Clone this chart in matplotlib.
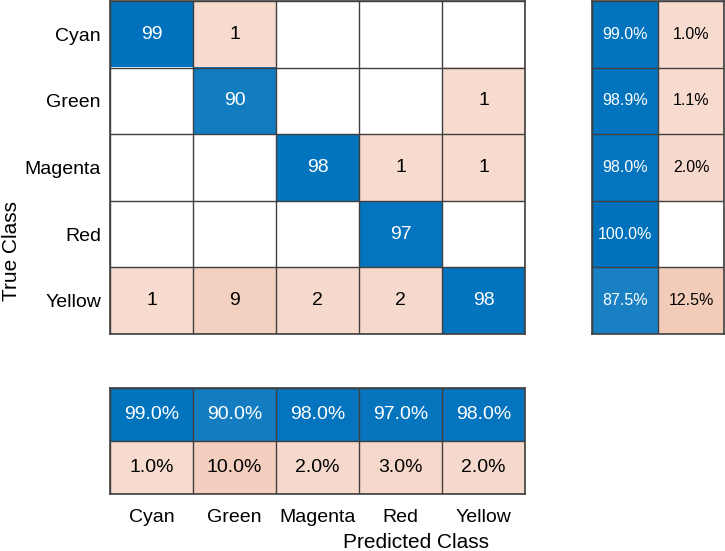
import matplotlib
matplotlib.use('Agg')
import matplotlib.pyplot as plt
import numpy as np

plt.rcParams['font.family'] = ['Liberation Sans', 'DejaVu Sans']

classes = ['Cyan', 'Green', 'Magenta', 'Red', 'Yellow']
# rows = true class, cols = predicted class
counts = np.array([
    [99, 1, 0, 0, 0],
    [0, 90, 0, 0, 1],
    [0, 0, 98, 1, 1],
    [0, 0, 0, 97, 0],
    [1, 9, 2, 2, 98],
])

BLUE = (0.0, 0.447, 0.741)
ORANGE = (0.85, 0.325, 0.098)
EDGE = '#3f3f3f'
W, H = 725, 551


def shade(base, a):
    return 1 - a * (1 - np.array(base))


def fig_rect(l, t, r, b):
    return [l / W, 1 - b / H, (r - l) / W, (b - t) / H]


def draw_grid(ax, nr, nc):
    for i in range(nr + 1):
        ax.axhline(i - 0.5, color=EDGE, lw=1.0)
    for j in range(nc + 1):
        ax.axvline(j - 0.5, color=EDGE, lw=1.0)
    for s in ax.spines.values():
        s.set_color(EDGE)
        s.set_linewidth(1.2)


n = len(classes)
vmax = counts.max()
rgb = np.ones((n, n, 3))
for i in range(n):
    for j in range(n):
        v = counts[i, j]
        if v > 0:
            rgb[i, j] = shade(BLUE if i == j else ORANGE, 0.2 + 0.8 * v / vmax)

row_tot = counts.sum(axis=1)
col_tot = counts.sum(axis=0)
row_ok = np.diag(counts) / row_tot * 100
col_ok = np.diag(counts) / col_tot * 100
row_pct = np.column_stack([row_ok, 100 - row_ok])
col_pct = np.vstack([col_ok, 100 - col_ok])


def pct_rgb(p, blue_first_axis):
    out = np.ones(p.shape + (3,))
    for idx, v in np.ndenumerate(p):
        good = idx[blue_first_axis] == 0
        if v > 0:
            out[idx] = shade(BLUE if good else ORANGE, 0.2 + 0.8 * v / 100)
    return out


fig = plt.figure(figsize=(7.25, 5.51), dpi=100)

# main matrix
ax = fig.add_axes(fig_rect(110, 1, 525, 334))
ax.imshow(rgb, aspect='auto', interpolation='nearest')
draw_grid(ax, n, n)
for i in range(n):
    for j in range(n):
        v = counts[i, j]
        if v > 0:
            ax.text(j, i, str(v), ha='center', va='center', fontsize=14,
                    color='white' if i == j else 'black')
ax.set_yticks(range(n))
ax.set_yticklabels(classes, fontsize=14)
ax.set_xticks([])
ax.tick_params(axis='y', length=0, pad=6.5)

# row summary
axr = fig.add_axes(fig_rect(592, 1, 724, 334))
axr.imshow(pct_rgb(row_pct, 1), aspect='auto', interpolation='nearest')
draw_grid(axr, n, 2)
for i in range(n):
    for j in range(2):
        v = row_pct[i, j]
        if v > 0:
            axr.text(j, i, f'{v:.1f}%', ha='center', va='center', fontsize=11.5,
                     color='white' if j == 0 else 'black')
axr.set_xticks([])
axr.set_yticks([])

# column summary
axb = fig.add_axes(fig_rect(110, 388, 525, 494))
axb.imshow(pct_rgb(col_pct, 0), aspect='auto', interpolation='nearest')
draw_grid(axb, 2, n)
for i in range(2):
    for j in range(n):
        v = col_pct[i, j]
        if v > 0:
            axb.text(j, i, f'{v:.1f}%', ha='center', va='center', fontsize=14,
                     color='white' if i == 0 else 'black')
axb.set_yticks([])
axb.set_xticks(range(n))
axb.set_xticklabels(classes, fontsize=14)
axb.tick_params(axis='x', length=0, pad=11)

fig.text(416 / W, 1 - 543 / H, 'Predicted Class', ha='center', va='center', fontsize=15)
fig.text(12 / W, 1 - 251 / H, 'True Class', ha='center', va='center', rotation=90, fontsize=15)

fig.savefig('out.png', dpi=100)
